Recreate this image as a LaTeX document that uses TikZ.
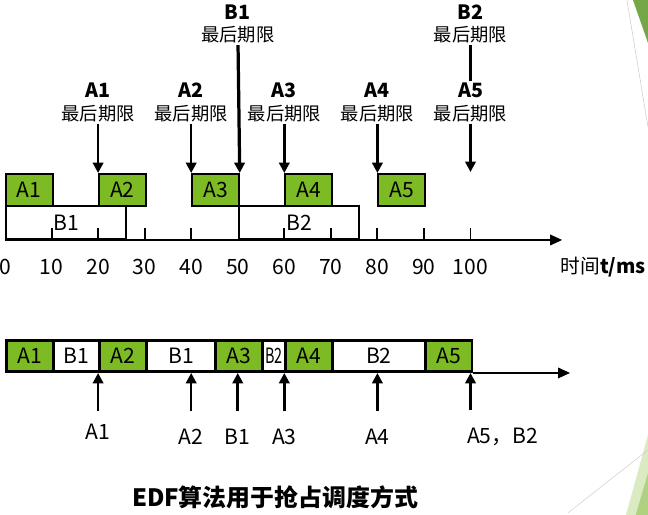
\documentclass[tikz,border=0pt]{standalone}
\usepackage{graphicx}
\usepackage{fontspec}
\setmainfont{Noto Sans CJK SC}
\usetikzlibrary{arrows.meta,positioning}
\definecolor{taskgreen}{RGB}{125,187,37}
\definecolor{decogreen}{RGB}{116,167,72}
\definecolor{decolight}{RGB}{218,234,194}
\definecolor{decomid}{RGB}{176,209,128}
\newcommand{\msw}{1.1638mm}

\begin{document}
\begin{tikzpicture}[x=\msw, y=0.25mm,
    every node/.style={font=\fontsize{15}{18}\selectfont},
    abox/.style={draw, line width=1.4pt, fill=taskgreen, minimum width=10*\msw,
                 minimum height=8mm, inner sep=0pt, anchor=south west},
    bbox/.style={draw, line width=1.4pt, minimum height=8.25mm, inner sep=0pt,
                 anchor=south west},
    seg/.style={draw, line width=2.1pt, minimum height=7.75mm, inner sep=0pt,
                anchor=south west},
    dl/.style={align=center, inner sep=1pt, font=\fontsize{13}{16}\selectfont},
    arr/.style={line width=1.8pt, -{Triangle[length=2.6mm,width=2.6mm]}},
    tickmark/.style={line width=1.4pt}]
    \useasboundingbox (-1.074,0) rectangle (138.13,515);

    % slide decoration
    \fill[decogreen] (134.9,515) -- (138.13,515) -- (138.13,472) -- cycle;
    \draw[gray!40, line width=0.4pt] (133.6,515) -- (138.13,388);
    \fill[decolight] (133.4,0) -- (138.13,80) -- (138.13,0) -- cycle;
    \fill[decomid] (135.5,0) -- (138.13,42) -- (138.13,0) -- cycle;
    \draw[gray!35, line width=0.4pt] (120.9,2) -- (138.13,65);

    % Upper chart: arrivals of A and B
    \node[bbox, minimum width=25.8*\msw] (B1) at (0,275) {B1};
    \node[bbox, minimum width=25.9*\msw] (B2) at (50,275) {B2};
    \foreach \t/\n in {0/1,20/2,40/3,60/4,80/5}
      \node[abox] (A\n) at (\t,308) {A\n};

    % time axis
    \coordinate (o1) at (0,275);
    \coordinate (e1) at (119.7,275);
    \draw[line width=1.4pt, -{Triangle[length=3mm,width=2.6mm]}] (o1) -- (e1);
    \foreach \t in {10,20,30,40,60,70,80,90,100}
      \draw[tickmark] (\t,275) -- (\t,287);
    \foreach \t in {0,10,...,100}
      \node (n\t) at (\t,248) {\t};
    \node[font=\fontsize{14}{17}\selectfont] (unit) at (128.5,248) {时间\textbf{t/ms}};

    % deadlines
    \node[dl] (dB1) at (50,491) {{\fontsize{14}{16}\selectfont\bfseries B1}\\最后期限};
    \node[dl] (dB2) at (100,491) {{\fontsize{14}{16}\selectfont\bfseries B2}\\最后期限};
    \foreach \t/\n in {20/1,40/2,60/3,80/4,100/5}
      \node[dl] (dA\n) at (\t,412.5) {{\fontsize{14}{16}\selectfont\bfseries A\n}\\最后期限};
    \coordinate (k5) at (100,343);
    \draw[arr, line width=2.3pt] (dB1) -- (A3.north east);
    \draw[line width=1.8pt] (dB2) -- (dA5);
    \draw[arr] (dA1) -- (A2.north west);
    \draw[arr] (dA2) -- (A3.north west);
    \draw[arr] (dA3) -- (A4.north west);
    \draw[arr] (dA4) -- (A5.north west);
    \draw[arr] (dA5) -- (k5);

    % Lower chart: EDF schedule
    \foreach \s/\e/\n/\c [count=\i] in {0/10/A1/taskgreen, 10/20/B1/white,
        20/30/A2/taskgreen, 30/45/B1/white, 45/55/A3/taskgreen,
        55/60/{\scalebox{0.68}[1]{B2}}/white,
        60/70/A4/taskgreen, 70/90/B2/white, 90/100/A5/taskgreen}
      \node[seg, fill=\c, minimum width={(\e-\s)*\msw}] (s\i) at (\s,142) {\n};
    \coordinate (e2) at (121.4,142);
    \draw[line width=1.4pt, -{Triangle[length=3mm,width=2.6mm]}] (s9.south east) -- (e2);

    % arrival marks
    \foreach \t/\txt/\ly/\lw/\an [count=\i] in {20/A1/83/1.8pt/center,
        40/A2/78/1.8pt/center, 50/B1/78/2.4pt/center, 60/A3/78/1.8pt/center,
        80/A4/78/1.8pt/center, 99.2/{A5，B2}/78/1.8pt/west}{
      \node[inner sep=0pt, anchor=\an] (r\i) at (\t,\ly) {\txt};
      \coordinate (q\i) at ({ceil(\t)},142);
      \draw[arr, line width=\lw] ([yshift={(95.5-\ly)*0.25mm}]r\i.north -| q\i) -- (q\i);
    }

    \node[font=\fontsize{17}{20}\selectfont\bfseries] (title) at (58,18)
      {EDF算法用于抢占调度方式};
\end{tikzpicture}
\end{document}
